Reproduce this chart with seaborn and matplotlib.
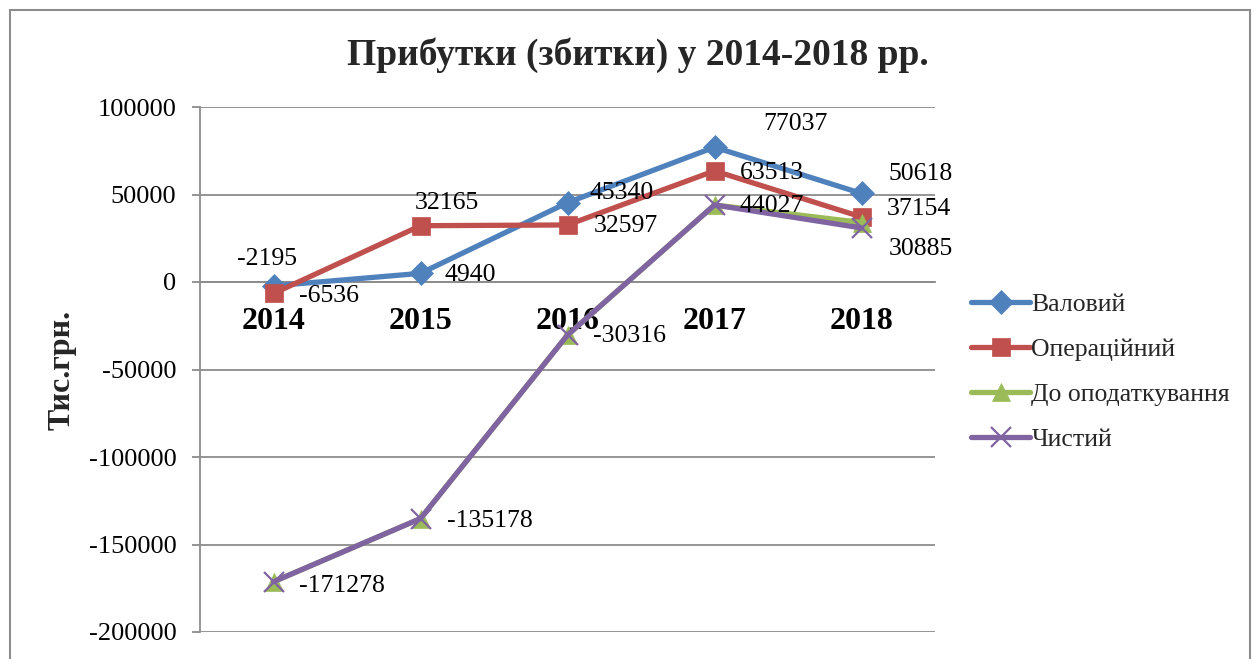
import matplotlib
matplotlib.use("Agg")
import matplotlib.pyplot as plt
import seaborn as sns
import pandas as pd
import numpy as np
from matplotlib.patches import Rectangle

# ---- data ----
years = ["2014", "2015", "2016", "2017", "2018"]
series_names = ["Валовий", "Операційний", "До оподаткування", "Чистий"]
valovyi = [-2195, 4940, 45340, 77037, 50618]
operatsiinyi = [-6536, 32165, 32597, 63513, 37154]
do_opodatkuvannia = [-171278, -135178, -30316, 44027, 34000]
chystyi = [-171278, -135178, -30316, 44027, 30885]
y_ticks = [100000, 50000, 0, -50000, -100000, -150000, -200000]
title = "Прибутки (збитки) у 2014-2018 рр."
y_label = "Тис.грн."

# ---- style ----
sns.set_theme(style="white")
plt.rcParams["font.family"] = ["Liberation Serif", "DejaVu Serif"]

colors = ["#4F81BD", "#C0504D", "#9BBB59", "#8064A2"]
markers = ["D", "s", "^", "x"]
msizes = [12, 13, 13, 14]

values = [valovyi, operatsiinyi, do_opodatkuvannia, chystyi]
df = pd.DataFrame({
    "pos": np.tile(np.arange(len(years)), len(series_names)),
    "value": np.concatenate(values),
    "series": np.repeat(series_names, len(years)),
})

fig = plt.figure(figsize=(12.55, 6.59), dpi=100)
ax = fig.add_axes([200 / 1255, 1 - 632 / 659, 735 / 1255, 525 / 659])

for name, c, m, ms in zip(series_names, colors, markers, msizes):
    sub = df[df["series"] == name]
    sns.lineplot(data=sub, x="pos", y="value", ax=ax, color=c, marker=m,
                 markersize=ms, linewidth=3.8, label=name,
                 markeredgecolor=c, markeredgewidth=1.6 if m == "x" else 0.5,
                 legend=False, zorder=3)

ax.set_xlim(-0.5, len(years) - 0.5)
ax.set_ylim(-200000, 100000)
ax.set_yticks(y_ticks)
ax.set_yticklabels([str(v) for v in y_ticks], fontsize=19)
ax.yaxis.grid(True, color="#8C8C8C", linewidth=1.3)
ax.xaxis.grid(False)
ax.set_xlabel("")
ax.set_ylabel("")

for s in ["top", "right"]:
    ax.spines[s].set_visible(False)
ax.spines["left"].set_color("#8C8C8C")
ax.spines["left"].set_linewidth(1.3)
ax.spines["bottom"].set_position(("data", 0))
ax.spines["bottom"].set_color("#8C8C8C")
ax.spines["bottom"].set_linewidth(1.3)
ax.tick_params(axis="y", which="both", left=True, length=6, width=1.3,
               color="#8C8C8C", pad=11, labelcolor="black")
ax.set_xticks(range(len(years)))
ax.set_xticklabels(years, fontsize=23, fontweight="bold")
ax.tick_params(axis="x", length=0, pad=18, labelcolor="black")

# ---- data labels (offsets in pixels, label layout only) ----
px = 72 / 100
label_offsets = {
    0: [(-36, -27), (24, 2), (22, -10), (49, -23), (27, -19)],
    1: [(26, 3), (-6, -23), (26, 1), (25, 2), (25, -8)],
    3: [(26, 4), (26, 2), (26, 1), (25, 1), (27, 21)],
}
for si, offs in label_offsets.items():
    vals = values[si]
    for i, (v, (dx, dy)) in enumerate(zip(vals, offs)):
        ax.annotate(str(v), xy=(i, v), xytext=(dx * px, -dy * px),
                    textcoords="offset points", ha="left", va="center",
                    fontsize=18.5, color="black", zorder=5)

# ---- title, y label ----
fig.text(638 / 1255, 1 - 55 / 659, title, ha="center", va="center",
         fontsize=27, fontweight="bold")
fig.text(62 / 1255, 1 - 370 / 659, y_label, ha="center", va="center",
         rotation=90, fontsize=23, fontweight="bold")

# ---- legend ----
handles, labels = ax.get_legend_handles_labels()
fig.legend(handles, labels, loc="upper left",
           bbox_to_anchor=(971 / 1255, 1 - 293 / 659), frameon=False,
           fontsize=18.5, handlelength=2.3, handletextpad=0.05,
           labelspacing=0.86, borderpad=0, borderaxespad=0)

# ---- outer border ----
fig.patches.append(Rectangle((10 / 1255, -0.05), 1240 / 1255, 1.05 - 10 / 659,
                             transform=fig.transFigure, fill=False,
                             edgecolor="#8C8C8C", linewidth=1.5))

fig.savefig("out.png", dpi=100)
